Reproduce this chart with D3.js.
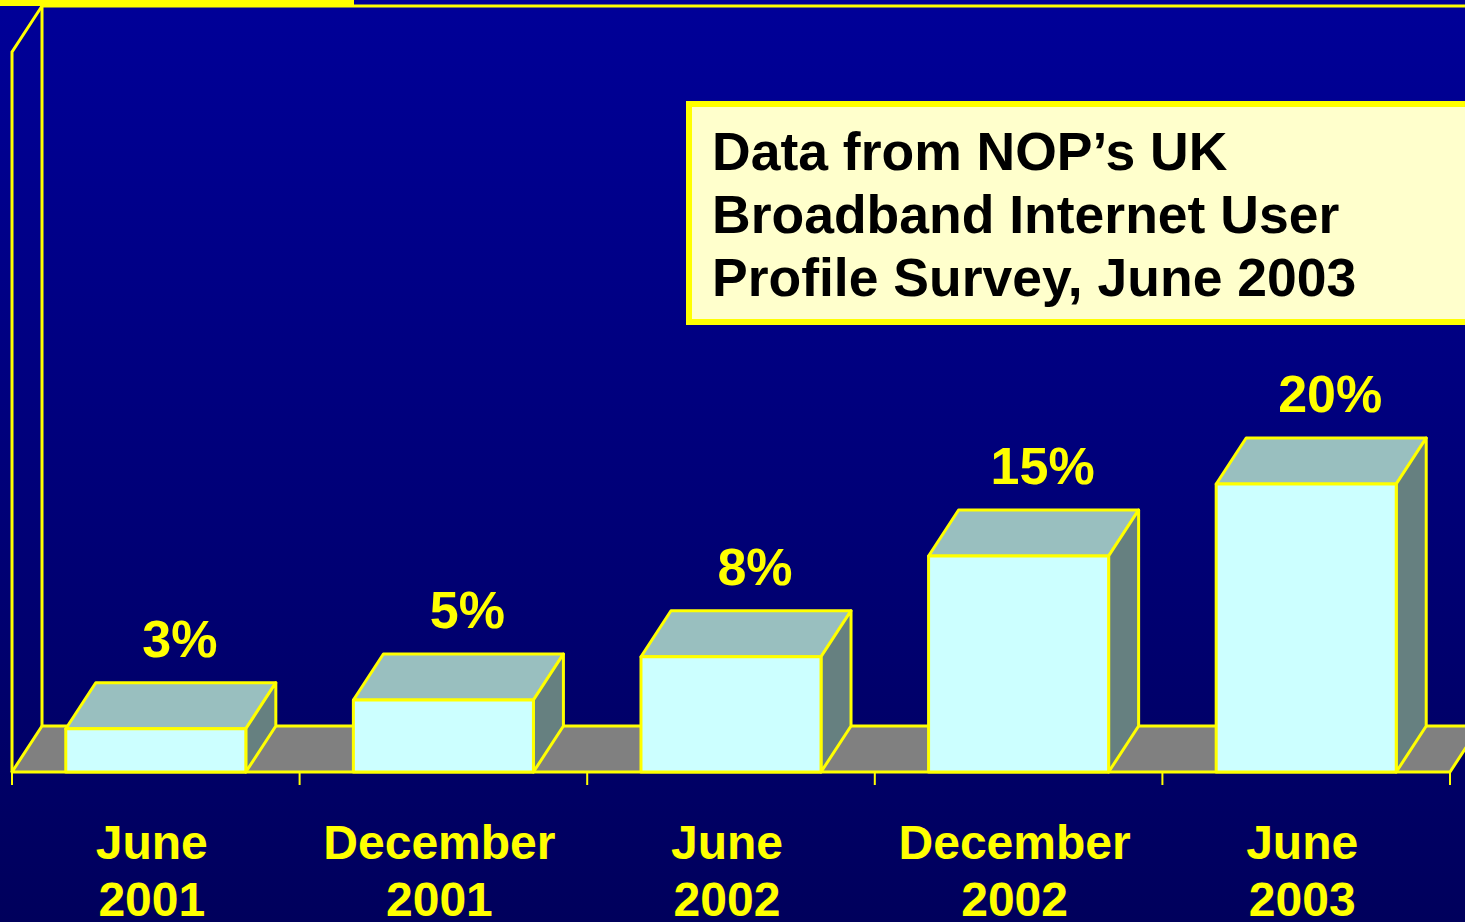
<!DOCTYPE html>
<html>
<head>
<meta charset="utf-8">
<script src="https://cdn.jsdelivr.net/npm/d3@7"></script>
<style>
  html, body { margin: 0; padding: 0; background: #00007a; overflow: hidden; }
  svg { display: block; }
  text { font-family: "Liberation Sans", Arial, sans-serif; font-weight: bold; }
</style>
</head>
<body>
<div id="chart"></div>
<script>
var months = ["June", "December", "June", "December", "June"];
var years = ["2001", "2001", "2002", "2002", "2003"];
var shares = [3, 5, 8, 15, 20];
var valueLabels = ["3%", "5%", "8%", "15%", "20%"];
var noteLines = ["Data from NOP\u2019s UK", "Broadband Internet User", "Profile Survey, June 2003"];

var W = 1465, H = 922;
var depth = {x: 30, y: -46};
var yellow = "#ffff00";

var svg = d3.select("#chart").append("svg")
  .attr("width", W)
  .attr("height", H);

var grad = svg.append("defs").append("linearGradient")
  .attr("id", "bg")
  .attr("x1", 0).attr("y1", 0).attr("x2", 0).attr("y2", 1);
grad.append("stop").attr("offset", "0%").attr("stop-color", "#000098");
grad.append("stop").attr("offset", "100%").attr("stop-color", "#00005c");

svg.append("rect")
  .attr("width", W).attr("height", H)
  .attr("fill", "url(#bg)");

var idx = d3.range(shares.length);

var x = d3.scaleBand()
  .domain(idx)
  .range([12, 1450])
  .paddingInner(0.374)
  .paddingOuter(0.187);

var y = d3.scaleLinear()
  .domain([0, 50])
  .range([772, 52]);

var bw = x.bandwidth();
var gap = (x.step() - bw) / 2;
var y0 = y(0), yTop = y(50);
var left = x.range()[0], right = x.range()[1];

// slide decoration at top
svg.append("rect")
  .attr("x", 0).attr("y", 0).attr("width", 354).attr("height", 6)
  .attr("fill", yellow);

// walls
var walls = svg.append("g")
  .attr("fill", "none")
  .attr("stroke", yellow)
  .attr("stroke-width", 3);

walls.append("path")
  .attr("d", d3.line()([[left, y0], [left, yTop], [left + depth.x, yTop + depth.y]]));
walls.append("line")
  .attr("x1", left + depth.x).attr("y1", y0 + depth.y)
  .attr("x2", left + depth.x).attr("y2", yTop + depth.y);
walls.append("line")
  .attr("x1", left + depth.x).attr("y1", yTop + depth.y)
  .attr("x2", W + 20).attr("y2", yTop + depth.y);

// floor
svg.append("path")
  .attr("d", d3.line()([
    [left, y0], [left + depth.x, y0 + depth.y],
    [right + depth.x, y0 + depth.y], [right, y0]
  ]) + "Z")
  .attr("fill", "#808080")
  .attr("stroke", yellow)
  .attr("stroke-width", 3)
  .attr("stroke-linejoin", "round");

// ticks at category boundaries
var bounds = idx.map(function(i) { return x(i) - gap; }).concat([right]);
svg.append("g").selectAll("line")
  .data(bounds)
  .enter().append("line")
  .attr("x1", function(d) { return d; })
  .attr("x2", function(d) { return d; })
  .attr("y1", y0)
  .attr("y2", y0 + 13)
  .attr("stroke", yellow)
  .attr("stroke-width", 2);

// 3d bars
var bars = svg.append("g")
  .attr("stroke", yellow)
  .attr("stroke-width", 3)
  .attr("stroke-linejoin", "round")
  .selectAll("g")
  .data(idx)
  .enter().append("g");

bars.append("path") // top
  .attr("fill", "#99bfbf")
  .attr("d", function(i) {
    var x0 = x(i), x1 = x(i) + bw, t = y(shares[i]);
    return d3.line()([[x0, t], [x0 + depth.x, t + depth.y], [x1 + depth.x, t + depth.y], [x1, t]]) + "Z";
  });

bars.append("path") // side
  .attr("fill", "#668080")
  .attr("d", function(i) {
    var x1 = x(i) + bw, t = y(shares[i]);
    return d3.line()([[x1, t], [x1 + depth.x, t + depth.y], [x1 + depth.x, y0 + depth.y], [x1, y0]]) + "Z";
  });

bars.append("rect") // front
  .attr("fill", "#ccffff")
  .attr("x", function(i) { return x(i); })
  .attr("y", function(i) { return y(shares[i]); })
  .attr("width", bw)
  .attr("height", function(i) { return y0 - y(shares[i]); });

// value labels
svg.append("g").selectAll("text")
  .data(idx)
  .enter().append("text")
  .attr("x", function(i) { return x(i) + bw / 2 + 24; })
  .attr("y", function(i) { return y(shares[i]) + depth.y - 26; })
  .attr("text-anchor", "middle")
  .attr("font-size", 52)
  .attr("fill", yellow)
  .text(function(i) { return valueLabels[i]; });

// category labels
var cats = svg.append("g").selectAll("text")
  .data(idx)
  .enter().append("text")
  .attr("text-anchor", "middle")
  .attr("font-size", 48)
  .attr("fill", yellow);
cats.append("tspan")
  .attr("x", function(i) { return x(i) + bw / 2 - 4; })
  .attr("y", 859)
  .text(function(i) { return months[i]; });
cats.append("tspan")
  .attr("x", function(i) { return x(i) + bw / 2 - 4; })
  .attr("y", 916)
  .text(function(i) { return years[i]; });

// note box
var note = svg.append("g");
note.append("rect")
  .attr("x", 689).attr("y", 104)
  .attr("width", 790).attr("height", 218)
  .attr("fill", "#ffffcc")
  .attr("stroke", yellow)
  .attr("stroke-width", 6);
note.append("text")
  .attr("font-size", 53.5)
  .attr("fill", "#000000")
  .selectAll("tspan")
  .data(noteLines)
  .enter().append("tspan")
  .attr("x", 712)
  .attr("y", function(d, i) { return 170 + i * 63; })
  .text(function(d) { return d; });
</script>
</body>
</html>
